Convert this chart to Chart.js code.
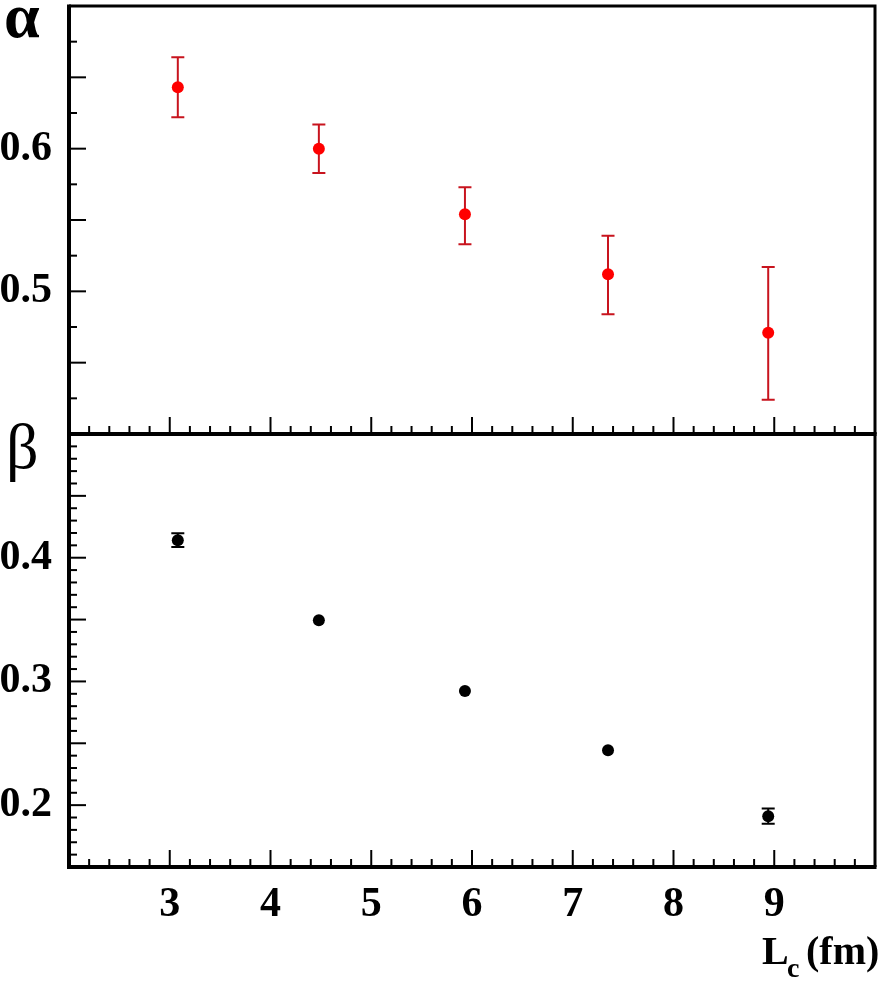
<!DOCTYPE html>
<html><head><meta charset="utf-8">
<script src="https://cdn.jsdelivr.net/npm/chart.js@4/dist/chart.umd.min.js"></script>
<style>
html,body{margin:0;padding:0;background:#fff;}
#wrap{position:relative;width:881px;height:981px;overflow:hidden;}
canvas{position:absolute;left:0;top:0;}
</style></head><body>
<div id="wrap">
<canvas id="c1" width="881" height="981"></canvas>
<canvas id="c2" width="881" height="981"></canvas>
</div>
<script>
// ---- data ----
const lengthFm = [3.08, 4.48, 5.93, 7.35, 8.94];
const alphaVal = [0.643, 0.600, 0.554, 0.512, 0.471];
const alphaErrUp = [0.021, 0.017, 0.019, 0.027, 0.046];
const alphaErrDown = [0.021, 0.017, 0.021, 0.028, 0.047];
const betaVal = [0.4142, 0.3494, 0.2922, 0.2444, 0.1911];
const betaErrUp = [0.0056, 0.002, 0.002, 0.0047, 0.0061];
const betaErrDown = [0.0056, 0.002, 0.002, 0.0047, 0.0062];
const xTickLabels = [3, 4, 5, 6, 7, 8, 9];
const alphaTickLabels = [0.5, 0.6];
const betaTickLabels = [0.2, 0.3, 0.4];

const SERIF = '"Liberation Serif", "DejaVu Serif", serif';

function near(a, b) { return Math.abs(a - b) < 1e-6; }

const errorBars = {
  id: 'errorBars',
  beforeDatasetsDraw(chart, args, opts) {
    const ctx = chart.ctx, xs = chart.scales.x, ys = chart.scales.y;
    ctx.save();
    ctx.strokeStyle = opts.color; ctx.lineWidth = 2; ctx.lineCap = 'butt';
    opts.x.forEach((xv, i) => {
      const px = xs.getPixelForValue(xv);
      const pyHi = ys.getPixelForValue(opts.val[i] + opts.up[i]);
      const pyLo = ys.getPixelForValue(opts.val[i] - opts.down[i]);
      const py = ys.getPixelForValue(opts.val[i]);
      if (py - pyHi <= opts.hideBelow && pyLo - py <= opts.hideBelow) return;
      ctx.beginPath(); ctx.moveTo(px, pyHi); ctx.lineTo(px, pyLo); ctx.stroke();
      ctx.beginPath();
      ctx.moveTo(px - 6.5, pyHi); ctx.lineTo(px + 6.5, pyHi);
      ctx.moveTo(px - 6.5, pyLo); ctx.lineTo(px + 6.5, pyLo);
      ctx.stroke();
    });
    ctx.restore();
  }
};

const frameTicks = {
  id: 'frameTicks',
  afterDraw(chart, args, opts) {
    const ctx = chart.ctx, a = chart.chartArea;
    const xs = chart.scales.x, ys = chart.scales.y;
    ctx.save();
    ctx.strokeStyle = '#000'; ctx.lineCap = 'butt'; ctx.lineWidth = 2;
    const nY = Math.round((ys.max - ys.min) / opts.yStep);
    for (let k = 0; k <= nY; k++) {
      const v = ys.min + k * opts.yStep, p = ys.getPixelForValue(v);
      if (p < a.top + 3 || p > a.bottom - 3) continue;
      const len = near(v * 20, Math.round(v * 20)) ? 17 : 8;
      ctx.beginPath(); ctx.moveTo(a.left, p); ctx.lineTo(a.left + len, p); ctx.stroke();
    }
    const nX = Math.round((xs.max - xs.min) / opts.xStep);
    for (let k = 0; k <= nX; k++) {
      const v = xs.min + k * opts.xStep, p = xs.getPixelForValue(v);
      if (p < a.left + 3 || p > a.right - 3) continue;
      const len = near(v, Math.round(v)) ? 17 : 8;
      ctx.beginPath(); ctx.moveTo(p, a.bottom); ctx.lineTo(p, a.bottom - len); ctx.stroke();
    }
    // frame
    ctx.lineWidth = 4;
    ctx.beginPath();
    ctx.moveTo(a.left, a.top - 1.5); ctx.lineTo(a.left, a.bottom + 2);
    ctx.moveTo(a.left - 2, a.bottom); ctx.lineTo(a.right + 1.5, a.bottom);
    ctx.stroke();
    ctx.lineWidth = 3;
    ctx.beginPath();
    if (opts.drawTop) { ctx.moveTo(a.left, a.top); ctx.lineTo(a.right + 1.5, a.top); }
    ctx.moveTo(a.right, a.top - 1.5); ctx.lineTo(a.right, a.bottom);
    ctx.stroke();
    // texts
    ctx.fillStyle = '#000';
    ctx.textAlign = 'left'; ctx.textBaseline = 'alphabetic';
    (opts.texts || []).forEach(tx => {
      ctx.font = tx.font;
      ctx.fillText(tx.text, tx.x, tx.y);
    });
    ctx.restore();
  }
};

function yScale(min, max, labels) {
  return {
    type: 'linear', min: min, max: max,
    grid: { display: false, drawTicks: false },
    border: { display: false },
    ticks: {
      stepSize: 0.05, autoSkip: false, padding: 17,
      color: '#000',
      font: { family: SERIF, size: 42, weight: 'bold' },
      callback: v => labels.some(l => near(l, v)) ? v.toFixed(1) : null
    },
    afterFit: s => { s.width = 69; s.paddingTop = 0; s.paddingBottom = 0; }
  };
}

function xScale(showLabels, h) {
  return {
    type: 'linear', min: 2, max: 10,
    grid: { display: false, drawTicks: false },
    border: { display: false },
    ticks: {
      stepSize: 1, autoSkip: false, maxRotation: 0, minRotation: 0,
      display: showLabels, padding: 13, color: '#000',
      font: { family: SERIF, size: 42, weight: 'bold' },
      callback: v => xTickLabels.some(l => near(l, v)) ? String(Math.round(v)) : null
    },
    afterFit: s => { s.height = h; s.paddingLeft = 0; s.paddingRight = 0; }
  };
}

const common = {
  responsive: false, animation: false, devicePixelRatio: 1,
  plugins: { legend: { display: false }, tooltip: { enabled: false } },
};

new Chart(document.getElementById('c1'), {
  type: 'scatter',
  data: { datasets: [{
    data: lengthFm.map((x, i) => ({ x: x, y: alphaVal[i] })),
    pointRadius: 6, pointBackgroundColor: '#ff0000', pointBorderColor: '#ff0000', pointBorderWidth: 0,
    showLine: false
  }]},
  options: Object.assign({}, common, {
    layout: { padding: { top: 1.5, right: 3, bottom: 547, left: 0 } },
    scales: { x: xScale(false, 0), y: yScale(0.4, 0.7, alphaTickLabels) },
    plugins: Object.assign({}, common.plugins, {
      errorBars: { x: lengthFm, val: alphaVal, up: alphaErrUp, down: alphaErrDown, color: '#c8141e', hideBelow: 6 },
      frameTicks: { drawTop: true, xStep: 0.2, yStep: 0.025, texts: [
        { text: 'α', x: 4, y: 37, font: 'bold 64px ' + SERIF }
      ] }
    })
  }),
  plugins: [errorBars, frameTicks]
});

new Chart(document.getElementById('c2'), {
  type: 'scatter',
  data: { datasets: [{
    data: lengthFm.map((x, i) => ({ x: x, y: betaVal[i] })),
    pointRadius: 6, pointBackgroundColor: '#000', pointBorderColor: '#000', pointBorderWidth: 0,
    showLine: false
  }]},
  options: Object.assign({}, common, {
    layout: { padding: { top: 434, right: 3, bottom: 0, left: 0 } },
    scales: { x: xScale(true, 114), y: yScale(0.15, 0.5, betaTickLabels) },
    plugins: Object.assign({}, common.plugins, {
      errorBars: { x: lengthFm, val: betaVal, up: betaErrUp, down: betaErrDown, color: '#000', hideBelow: 6 },
      frameTicks: { drawTop: false, xStep: 0.2, yStep: 0.01, texts: [
        { text: 'β', x: 6, y: 468, font: '64px ' + SERIF },
        { text: 'L', x: 762, y: 964, font: 'bold 40px ' + SERIF },
        { text: 'c', x: 787, y: 977, font: 'bold 28px ' + SERIF },
        { text: '(fm)', x: 806, y: 964, font: 'bold 40px ' + SERIF }
      ] }
    })
  }),
  plugins: [errorBars, frameTicks]
});
</script>
</body></html>
